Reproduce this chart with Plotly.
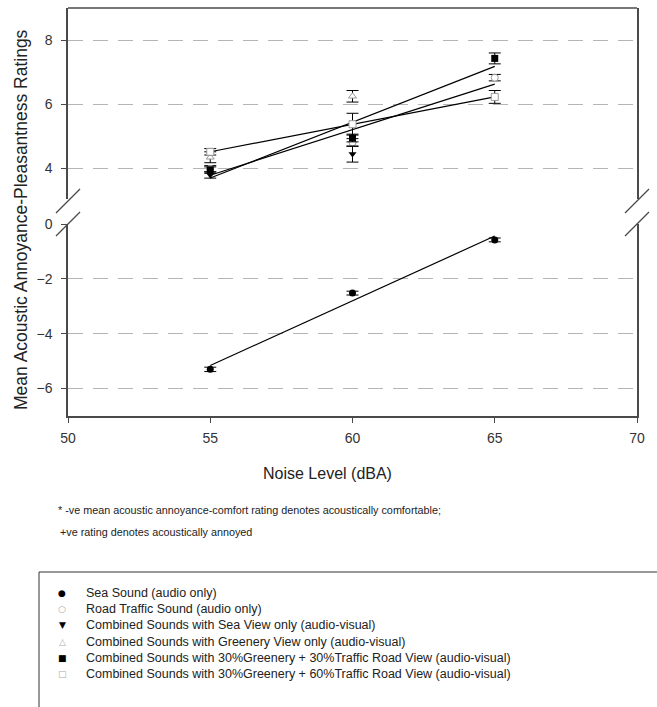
import numpy as np
import plotly.graph_objects as go

# ---------------- data ----------------
noise_levels = [55, 60, 65]
x_ticks = [50, 55, 60, 65, 70]
y_ticks_lower = [-6, -4, -2, 0]
y_ticks_upper = [4, 6, 8]

sea_sound = [-5.30, -2.52, -0.58]
sea_sound_err = [0.08, 0.07, 0.07]

road_traffic = [3.99, 4.81, 6.83]
road_traffic_err = [0.10, 0.12, 0.10]

sea_view_x = [55, 60]
sea_view = [3.80, 4.45]
sea_view_err = [0.10, 0.25]

greenery_view_x = [55, 60]
greenery_view = [4.35, 6.25]
greenery_view_err = [0.17, 0.18]

g30_t30 = [3.95, 4.95, 7.43]
g30_t30_err = [0.10, 0.12, 0.17]

g30_t60 = [4.52, 5.38, 6.23]
g30_t60_err = [0.10, 0.34, 0.20]

legend_names = [
    "Sea Sound (audio only)",
    "Road Traffic Sound (audio only)",
    "Combined Sounds with Sea View only (audio-visual)",
    "Combined Sounds with Greenery View only (audio-visual)",
    "Combined Sounds with 30%Greenery + 30%Traffic Road View (audio-visual)",
    "Combined Sounds with 30%Greenery + 60%Traffic Road View (audio-visual)",
]
legend_glyphs = ["\u25CF", "\u25CB", "\u25BC", "\u25B3", "\u25A0", "\u25A1"]
legend_glyph_colors = ["#000", "#aaa", "#000", "#aaa", "#000", "#aaa"]

footnote_1 = "* -ve mean acoustic annoyance-comfort rating denotes acoustically comfortable;"
footnote_2 = "+ve rating denotes acoustically annoyed"

# ---------------- geometry helpers ----------------
W, H = 657, 707
L, R, T, B = 68, 20, 8, 291
PW, PH = W - L - R, H - T - B


def px(xp):
    return (xp - L) / PW


def py(yp):
    return (H - B - yp) / PH


lower_dom = [0, py(224)]
upper_dom = [py(199), 1]

fig = go.Figure()

FILLED = dict(color="black", size=7)
OPEN = dict(color="white", size=7, line=dict(color="#999", width=1))


def add_series(xs, ys, errs, symbol, mstyle, yaxis):
    m = dict(mstyle)
    m["symbol"] = symbol
    fig.add_trace(go.Scatter(
        x=xs, y=ys, mode="markers", yaxis=yaxis, marker=m, showlegend=False,
        error_y=dict(type="data", array=errs, color="black", thickness=1, width=6),
    ))


def add_fit(xs, ys, yaxis):
    k, b = np.polyfit(xs, ys, 1)
    xf = [min(xs), max(xs)]
    fig.add_trace(go.Scatter(
        x=xf, y=[k * v + b for v in xf], mode="lines", yaxis=yaxis,
        line=dict(color="black", width=1.2), showlegend=False,
    ))


add_fit(noise_levels, sea_sound, "y")
add_fit(noise_levels, road_traffic, "y2")
add_fit(noise_levels, g30_t30, "y2")
add_fit(noise_levels, g30_t60, "y2")

add_series(noise_levels, sea_sound, sea_sound_err, "circle", FILLED, "y")
add_series(noise_levels, road_traffic, road_traffic_err, "circle", OPEN, "y2")
add_series(sea_view_x, sea_view, sea_view_err, "triangle-down", FILLED, "y2")
add_series(greenery_view_x, greenery_view, greenery_view_err, "triangle-up", OPEN, "y2")
add_series(noise_levels, g30_t30, g30_t30_err, "square", FILLED, "y2")
add_series(noise_levels, g30_t60, g30_t60_err, "square", OPEN, "y2")

AX_COL = "#4a4a4a"
GRID = dict(showgrid=True, gridcolor="#b5b5b5", gridwidth=1.2, griddash="15px,10px")
TICKFONT = dict(family="Liberation Sans, Arial, sans-serif", size=14, color="#333")

fig.update_layout(
    width=W, height=H,
    margin=dict(l=L, r=R, t=T, b=B, autoexpand=False),
    paper_bgcolor="white", plot_bgcolor="white",
    showlegend=False,
    xaxis=dict(range=[50, 70], tickvals=x_ticks, ticks="outside", ticklen=5,
               tickcolor=AX_COL, showline=True, linecolor=AX_COL, linewidth=1.5,
               showgrid=False, zeroline=False, tickfont=TICKFONT, anchor="y",
               ticklabelstandoff=3),
    yaxis=dict(domain=lower_dom, range=[-7, 0], tickvals=y_ticks_lower,
               ticks="outside", ticklen=5, tickcolor=AX_COL, showline=True,
               linecolor=AX_COL, linewidth=1.5, mirror=True, zeroline=False,
               tickfont=TICKFONT, ticklabelstandoff=6, **GRID),
    yaxis2=dict(domain=upper_dom, range=[3.05, 9], tickvals=y_ticks_upper,
                ticks="outside", ticklen=5, tickcolor=AX_COL, showline=True,
                linecolor=AX_COL, linewidth=1.5, mirror=True, zeroline=False,
                tickfont=TICKFONT, anchor="x", ticklabelstandoff=6, **GRID),
)

shapes = []
# top border
shapes.append(dict(type="line", xref="paper", yref="paper", x0=0, x1=1, y0=1, y1=1,
                   line=dict(color=AX_COL, width=1.5)))
# axis break marks
dx, dy = 12 / PW, 12 / PH
for xc in (0, 1):
    for yc in (py(201), py(224)):
        shapes.append(dict(type="line", xref="paper", yref="paper",
                           x0=xc - dx, x1=xc + dx, y0=yc - dy, y1=yc + dy,
                           line=dict(color=AX_COL, width=1.2)))
# legend box (extends beyond the page)
shapes.append(dict(type="rect", xref="paper", yref="paper",
                   x0=px(39), x1=px(720), y0=py(572), y1=py(760),
                   line=dict(color="#333", width=1), fillcolor="rgba(0,0,0,0)"))
fig.update_layout(shapes=shapes)

FONT = "Liberation Sans, Arial, sans-serif"
ann = []
ann.append(dict(text="Mean Acoustic Annoyance-Pleasantness Ratings", textangle=-90,
                xref="paper", yref="paper", x=px(21), y=py(220), showarrow=False,
                xanchor="center", yanchor="middle",
                font=dict(family=FONT, size=17.5, color="#222")))
ann.append(dict(text="Noise Level (dBA)", xref="paper", yref="paper",
                x=px(327), y=py(473), showarrow=False,
                xanchor="center", yanchor="middle",
                font=dict(family=FONT, size=16, color="#222")))
ann.append(dict(text=footnote_1, xref="paper", yref="paper", x=px(56), y=py(510),
                xanchor="left", yanchor="middle", showarrow=False,
                font=dict(family=FONT, size=10.8, color="#222")))
ann.append(dict(text=footnote_2, xref="paper", yref="paper", x=px(58), y=py(532),
                xanchor="left", yanchor="middle", showarrow=False,
                font=dict(family=FONT, size=10.8, color="#222")))
for i, (name, g, c) in enumerate(zip(legend_names, legend_glyphs, legend_glyph_colors)):
    yy = 593 + 16.2 * i
    ann.append(dict(text=g, xref="paper", yref="paper", x=px(62), y=py(yy),
                    xanchor="center", yanchor="middle",
                    showarrow=False, font=dict(family="DejaVu Sans", size=9, color=c)))
    ann.append(dict(text=name, xref="paper", yref="paper", x=px(84), y=py(yy),
                    xanchor="left", yanchor="middle", showarrow=False,
                    font=dict(family=FONT, size=12.5, color="#222")))
fig.update_layout(annotations=ann)

fig.write_html("out.html",
               config={"displayModeBar": False},
               post_script="document.body.style.margin='0px';"
                           "document.body.style.overflow='hidden';")
